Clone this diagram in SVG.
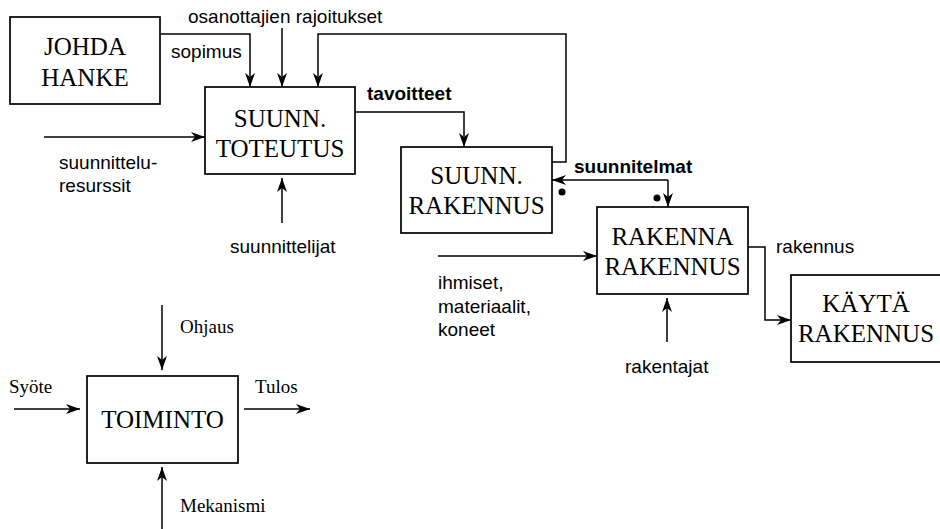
<svg xmlns="http://www.w3.org/2000/svg" width="940" height="529" viewBox="0 0 940 529">
  <style>
    .box { fill: #fff; stroke: #000; stroke-width: 1.7; }
    .box-text { font-family: "Liberation Serif", "Times New Roman", serif; font-size: 25px; fill: #000; text-anchor: middle; }
    .wire { fill: none; stroke: #000; stroke-width: 1.5; }
    .arrow { marker-end: url(#head); }
    .lbl { font-family: "Liberation Sans", Arial, sans-serif; font-size: 19px; fill: #000; }
    .lbl-b { font-family: "Liberation Sans", Arial, sans-serif; font-size: 19px; font-weight: bold; fill: #000; }
    .lbl-s { font-family: "Liberation Serif", "Times New Roman", serif; font-size: 19px; fill: #000; }
    .dot { fill: #000; }
  </style>
  <defs>
    <marker id="head" markerUnits="userSpaceOnUse" markerWidth="16" markerHeight="12" viewBox="-15 -6 16 12" refX="0" refY="0" orient="auto">
      <path d="M0,0 L-14,-5 L-10,0 L-14,5 Z" fill="#000"/>
    </marker>
  </defs>

  <rect width="940" height="529" fill="#fff"/>

  <!-- connectors -->
  <g id="connectors">
    <path class="wire arrow" d="M161,34 H250 V87"/>
    <path class="wire arrow" d="M282,28 V87"/>
    <path class="wire arrow" d="M547,162 H566 V34 H318 V87"/>
    <path class="wire arrow" d="M353,112 H464 V147"/>
    <path class="wire arrow" d="M44,137 H205"/>
    <path class="wire arrow" d="M282,223 V178"/>
    <path class="wire arrow" d="M668,180 H552"/>
    <path class="wire arrow" d="M668,180 V207"/>
    <path class="wire arrow" d="M438,256 H597"/>
    <path class="wire arrow" d="M667,342 V298"/>
    <path class="wire arrow" d="M748,247 H765 V320 H791"/>
    <path class="wire arrow" d="M14,409 H80"/>
    <path class="wire arrow" d="M244,409 H310"/>
    <path class="wire arrow" d="M162,305 V370"/>
    <path class="wire arrow" d="M162,529 V467"/>
    <circle class="dot" cx="562" cy="192" r="3.5"/>
    <circle class="dot" cx="657" cy="198" r="3.5"/>
  </g>

  <!-- activity boxes -->
  <g id="johda-hanke">
    <rect class="box" x="10" y="17" width="150" height="87"/>
    <text class="box-text" x="85" y="55">JOHDA</text>
    <text class="box-text" x="85" y="86">HANKE</text>
  </g>
  <g id="suunn-toteutus">
    <rect class="box" x="205" y="87" width="150" height="87"/>
    <text class="box-text" x="280" y="127">SUUNN.</text>
    <text class="box-text" x="280" y="157">TOTEUTUS</text>
  </g>
  <g id="suunn-rakennus">
    <rect class="box" x="401" y="147" width="151" height="86"/>
    <text class="box-text" x="476.5" y="184">SUUNN.</text>
    <text class="box-text" x="476.5" y="214">RAKENNUS</text>
  </g>
  <g id="rakenna-rakennus">
    <rect class="box" x="597" y="207" width="151" height="87"/>
    <text class="box-text" x="672.5" y="245">RAKENNA</text>
    <text class="box-text" x="672.5" y="275">RAKENNUS</text>
  </g>
  <g id="kayta-rakennus">
    <rect class="box" x="791" y="275" width="150" height="87"/>
    <text class="box-text" x="866" y="312">KÄYTÄ</text>
    <text class="box-text" x="866" y="342">RAKENNUS</text>
  </g>
  <g id="toiminto">
    <rect class="box" x="87" y="376" width="151" height="87"/>
    <text class="box-text" x="162.5" y="428">TOIMINTO</text>
  </g>

  <!-- flow labels -->
  <g id="labels">
    <text class="lbl" x="188" y="23">osanottajien rajoitukset</text>
    <text class="lbl" x="171" y="58">sopimus</text>
    <text class="lbl-b" x="367" y="100">tavoitteet</text>
    <text class="lbl" x="59" y="169">suunnittelu-</text>
    <text class="lbl" x="59" y="192">resurssit</text>
    <text class="lbl" x="230" y="253">suunnittelijat</text>
    <text class="lbl-b" x="574" y="173">suunnitelmat</text>
    <text class="lbl" x="438" y="289">ihmiset,</text>
    <text class="lbl" x="438" y="313">materiaalit,</text>
    <text class="lbl" x="438" y="336">koneet</text>
    <text class="lbl" x="625" y="373">rakentajat</text>
    <text class="lbl" x="776" y="253">rakennus</text>
    <text class="lbl-s" x="180" y="333">Ohjaus</text>
    <text class="lbl-s" x="9" y="393">Syöte</text>
    <text class="lbl-s" x="255" y="393">Tulos</text>
    <text class="lbl-s" x="180" y="512">Mekanismi</text>
  </g>
</svg>
